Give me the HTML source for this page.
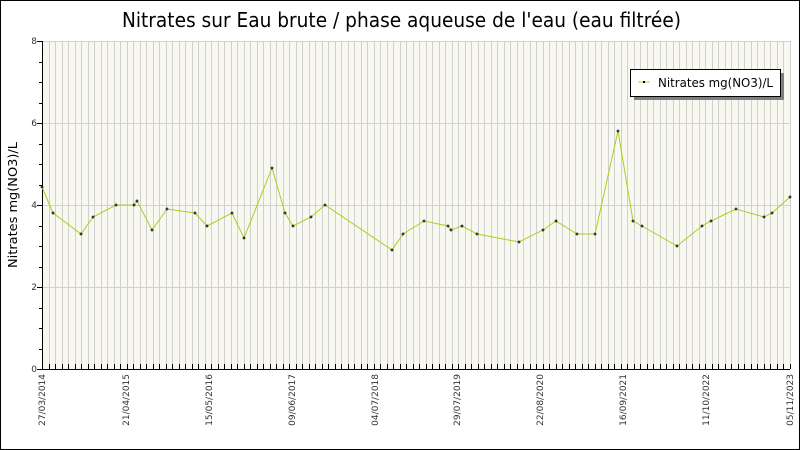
<!DOCTYPE html>
<html><head><meta charset="utf-8"><style>body{margin:0}svg{display:block}</style></head><body>
<svg width="800" height="450" xmlns="http://www.w3.org/2000/svg" font-family="'DejaVu Sans','Liberation Sans',sans-serif">
<rect x="0" y="0" width="800" height="450" fill="#fff"/>
<rect x="0.5" y="0.5" width="799" height="449" fill="none" stroke="#000"/>
<text x="122" y="27" textLength="559" lengthAdjust="spacingAndGlyphs" font-size="20" fill="#000">Nitrates sur Eau brute / phase aqueuse de l'eau (eau filtrée)</text>
<rect x="42" y="41" width="748" height="328" fill="#f8f8f0"/>
<g id="g" stroke="#d0d0d0" stroke-width="1"></g>
<g stroke="#d0d0d0"><line x1="42" y1="41.5" x2="790" y2="41.5"/><line x1="42" y1="123.5" x2="790" y2="123.5"/><line x1="42" y1="205.5" x2="790" y2="205.5"/><line x1="42" y1="287.5" x2="790" y2="287.5"/></g>
<g id="t" stroke="#000"></g>
<line x1="42.5" y1="41" x2="42.5" y2="369" stroke="#000"/>
<line x1="42" y1="369.5" x2="790" y2="369.5" stroke="#000"/>
<g font-size="9" fill="#333" text-anchor="end"><text x="37" y="44">8</text><text x="37" y="126">6</text><text x="37" y="208">4</text><text x="37" y="290">2</text><text x="37" y="372">0</text></g>
<text transform="translate(17,205) rotate(-90)" text-anchor="middle" font-size="12" fill="#000" textLength="126" lengthAdjust="spacingAndGlyphs">Nitrates mg(NO3)/L</text>
<g font-size="9" fill="#333" text-anchor="end" id="xl"></g>
<polyline fill="none" stroke="#a8d020" stroke-width="1" points="42,187 53,213 81,234 93,217 116,205 134,205 137,201 152,230 167,209 195,213 207,226 232,213 244,238 272,168 285,213 293,226 311,217 325,205 392,250 403,234 424,221 448,226 451,230 462,226 477,234 519,242 543,230 556,221 577,234 595,234 618,131 633,221 642,226 677,246 702,226 711,221 736,209 764,217 772,213 790,197" id="pl"/>
<g id="mk" fill="#000"></g>
<rect x="634" y="73" width="150" height="27" fill="#808080"/>
<rect x="630.5" y="69.5" width="150" height="27" fill="#fff" stroke="#000"/>
<line x1="638" y1="82" x2="650" y2="82" stroke="#a8d020"/>
<rect x="643" y="81" width="2" height="2" fill="#000"/>
<text x="658" y="87" font-size="12" fill="#000" textLength="115" lengthAdjust="spacingAndGlyphs">Nitrates mg(NO3)/L</text>
<script>
var ns="http://www.w3.org/2000/svg",g=document.getElementById('g'),t=document.getElementById('t');
for(var i=1;i<=115;i++){var x=Math.round(42+i*6.5)+0.5;var l=document.createElementNS(ns,'line');l.setAttribute('x1',x);l.setAttribute('x2',x);l.setAttribute('y1',41);l.setAttribute('y2',369);g.appendChild(l);}
for(var i=0;i<=115;i++){var x=Math.round(42+i*6.5)+0.5;var l=document.createElementNS(ns,'line');l.setAttribute('x1',x);l.setAttribute('x2',x);l.setAttribute('y1',364);l.setAttribute('y2',369);t.appendChild(l);}
for(var v=0;v<=16;v++){var y=41+v*20.5;y=Math.round(y)+0.5;var l=document.createElementNS(ns,'line');l.setAttribute('x1',v%4==0?37:39);l.setAttribute('x2',42);l.setAttribute('y1',y);l.setAttribute('y2',y);t.appendChild(l);}
var labs=[[42,'27/03/2014'],[126,'21/04/2015'],[209,'15/05/2016'],[292,'09/06/2017'],[375,'04/07/2018'],[457,'29/07/2019'],[540,'22/08/2020'],[623,'16/09/2021'],[706,'11/10/2022'],[790,'05/11/2023']];
var xl=document.getElementById('xl');labs.forEach(function(a){var e=document.createElementNS(ns,'text');e.setAttribute('transform','translate('+(a[0]+3)+',374) rotate(-90)');e.textContent=a[1];xl.appendChild(e);});
var pts=document.getElementById('pl').getAttribute('points').split(' '),mk=document.getElementById('mk');
pts.forEach(function(p){var c=p.split(',');var r=document.createElementNS(ns,'path');r.setAttribute('d','M'+(c[0]-1.5)+' '+c[1]+'h3M'+c[0]+' '+(c[1]-1.5)+'v3');r.setAttribute('stroke','#000');mk.appendChild(r);});
</script>
</svg>
</body></html>
